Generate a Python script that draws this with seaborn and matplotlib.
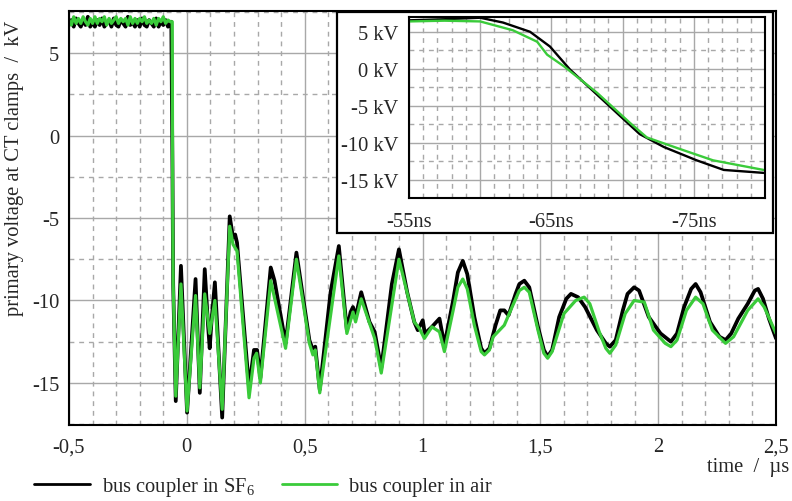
import matplotlib
matplotlib.use("Agg")
import numpy as np
import pandas as pd
import matplotlib.pyplot as plt
from matplotlib.patches import Rectangle
from matplotlib.lines import Line2D
from matplotlib.ticker import MultipleLocator, FixedLocator, FixedFormatter
import seaborn as sns

# ---------------- data ----------------
# plateau before the switching operation (µs, kV)
t_pre = [-0.50, -0.49, -0.48, -0.47, -0.46, -0.45, -0.44, -0.43, -0.42, -0.41,
         -0.40, -0.39, -0.38, -0.37, -0.36, -0.35, -0.34, -0.33, -0.32, -0.31,
         -0.30, -0.29, -0.28, -0.27, -0.26, -0.25, -0.24, -0.23, -0.22, -0.21,
         -0.20, -0.19, -0.18, -0.17, -0.16, -0.15, -0.14, -0.13, -0.12, -0.11,
         -0.10, -0.09, -0.08, -0.07]
u_sf6_pre = [6.7, 7.0, 6.6, 7.1, 6.8, 6.6, 7.0, 6.7, 7.2, 6.6, 6.9, 6.6, 7.0, 6.7,
             7.1, 6.6, 6.8, 7.0, 6.6, 7.1, 6.7, 6.6, 7.0, 6.8, 6.6, 7.2, 6.7, 6.9,
             6.6, 7.0, 6.6, 7.1, 6.7, 6.6, 7.0, 6.8, 6.6, 7.1, 6.6, 6.9, 6.7, 7.0,
             6.6, 6.8]
u_air_pre = [7.0, 6.7, 7.2, 6.8, 7.1, 6.8, 7.2, 6.9, 6.7, 7.1, 6.8, 7.2, 6.8, 7.1,
             6.9, 7.2, 6.7, 7.1, 6.8, 7.0, 7.2, 6.8, 7.1, 6.9, 7.1, 6.7, 7.2, 6.8,
             7.1, 6.8, 7.1, 6.9, 7.2, 6.8, 7.0, 6.8, 7.1, 6.7, 7.1, 6.9, 7.2, 6.8,
             7.0, 6.9]

# transient after the step, bus coupler in SF6
t_sf6 = [-0.066, -0.061, -0.058, -0.047, -0.025, 0.001, 0.037, 0.055, 0.076, 0.090,
         0.097, 0.105, 0.119, 0.150, 0.182, 0.196, 0.205, 0.213, 0.264, 0.285,
         0.298, 0.312, 0.356, 0.372, 0.419, 0.465, 0.490, 0.520, 0.535, 0.545,
         0.564, 0.610, 0.645, 0.679, 0.695, 0.705, 0.716, 0.740, 0.775, 0.797,
         0.825, 0.870, 0.900, 0.935, 0.965, 0.980, 1.001, 1.010, 1.040, 1.072,
         1.093, 1.130, 1.150, 1.171, 1.190, 1.220, 1.249, 1.263, 1.284, 1.310,
         1.330, 1.347, 1.365, 1.395, 1.411, 1.432, 1.453, 1.490, 1.515, 1.531,
         1.550, 1.580, 1.610, 1.630, 1.660, 1.690, 1.740, 1.778, 1.795, 1.820,
         1.850, 1.870, 1.898, 1.919, 1.960, 2.010, 2.054, 2.080, 2.110, 2.140,
         2.159, 2.180, 2.220, 2.260, 2.286, 2.310, 2.340, 2.380, 2.410, 2.424,
         2.445, 2.470, 2.500]
u_sf6 = [6.9, -2.0, -9.0, -16.1, -7.9, -16.8, -8.7, -15.6, -8.1, -11.5,
         -12.9, -11.2, -8.9, -17.1, -4.9, -6.2, -6.0, -6.5, -15.3, -13.0,
         -13.0, -14.7, -8.0, -8.8, -12.6, -7.1, -9.5, -12.4, -13.0, -12.8,
         -15.4, -9.5, -6.7, -11.8, -10.7, -10.4, -11.0, -9.5, -11.3, -11.9,
         -14.1, -9.0, -6.9, -9.5, -11.3, -11.8, -11.2, -12.0, -11.6, -11.1,
         -12.7, -10.0, -8.3, -7.6, -8.4, -11.0, -12.9, -13.2, -12.9, -11.5,
         -10.6, -10.6, -10.9, -9.6, -9.0, -8.8, -9.2, -11.6, -13.0, -13.4,
         -13.0, -11.0, -9.9, -9.6, -9.8, -10.4, -11.8, -12.6, -12.8, -12.4,
         -10.6, -9.6, -9.2, -9.4, -11.0, -12.0, -12.5, -12.0, -10.4, -9.3,
         -9.0, -9.5, -11.3, -12.2, -12.4, -12.0, -11.1, -10.2, -9.4, -9.3,
         -9.9, -11.1, -12.3]

# transient after the step, bus coupler in air
t_air = [-0.062, -0.060, -0.058, -0.047, -0.025, 0.001, 0.037, 0.055, 0.076, 0.097,
         0.119, 0.150, 0.182, 0.196, 0.213, 0.264, 0.285, 0.296, 0.312, 0.356,
         0.419, 0.465, 0.520, 0.535, 0.545, 0.564, 0.645, 0.679, 0.705, 0.716,
         0.740, 0.797, 0.825, 0.900, 0.965, 0.987, 1.008, 1.040, 1.072, 1.093,
         1.130, 1.150, 1.171, 1.190, 1.220, 1.249, 1.263, 1.284, 1.300, 1.347,
         1.380, 1.411, 1.432, 1.453, 1.490, 1.515, 1.531, 1.550, 1.600, 1.650,
         1.686, 1.710, 1.750, 1.778, 1.795, 1.820, 1.860, 1.898, 1.941, 1.980,
         2.030, 2.054, 2.080, 2.120, 2.159, 2.190, 2.230, 2.286, 2.320, 2.380,
         2.424, 2.450, 2.500]
u_air = [6.9, -4.5, -9.0, -15.8, -9.0, -16.7, -9.7, -15.3, -9.6, -12.0,
         -10.0, -16.6, -5.5, -6.6, -7.0, -15.9, -13.5, -13.2, -15.0, -8.8,
         -12.9, -7.5, -12.6, -13.3, -13.0, -15.6, -7.3, -12.0, -10.7, -11.3,
         -9.9, -12.3, -14.4, -7.5, -11.3, -11.7, -12.3, -11.6, -11.9, -13.1,
         -10.6, -9.2, -8.7, -9.3, -11.5, -13.1, -13.3, -13.0, -12.2, -11.5,
         -10.4, -9.4, -9.2, -9.5, -11.8, -13.2, -13.5, -13.1, -10.8, -10.0,
         -9.8, -10.2, -11.9, -12.9, -13.2, -12.7, -10.8, -10.0, -10.1, -11.8,
         -12.6, -12.8, -12.4, -10.6, -9.8, -10.2, -11.8, -12.6, -12.2, -10.6,
         -9.9, -10.4, -12.0]

# zoomed view of the falling edge (ns, kV)
tz_sf6 = [55.0, 57.5, 60.0, 61.6, 63.5, 64.9, 66.3, 68.2, 70.05, 71.2, 72.9, 75.2, 77.1, 79.9]
uz_sf6 = [6.55, 6.7, 6.9, 6.25, 5.0, 3.0, -0.1, -3.5, -6.8, -8.85, -10.6, -12.4, -13.7, -14.1]
tz_air = [55.0, 57.5, 60.0, 62.3, 64.0, 64.7, 65.9, 68.2, 70.5, 71.7, 74.0, 76.35, 79.9]
uz_air = [6.4, 6.5, 6.4, 5.2, 3.65, 1.9, 0.3, -3.25, -7.3, -9.3, -10.85, -12.4, -13.7]

x_ticks = [-0.5, 0.0, 0.5, 1.0, 1.5, 2.0, 2.5]
x_labels = ["-0,5", "0", "0,5", "1", "1,5", "2", "2,5"]
y_ticks = [5, 0, -5, -10, -15]
y_labels = ["5", "0", "-5", "-10", "-15"]
zx_ticks = [55, 60, 65, 70, 75, 80]
zx_labels = ["-55ns", "", "-65ns", "", "-75ns", ""]
zy_ticks = [5, 0, -5, -10, -15]
zy_labels = ["5 kV", "0 kV", "-5 kV", "-10 kV", "-15 kV"]

series_names = ["bus coupler in SF$_\\mathrm{6}$", "bus coupler in air"]
c_sf6 = "#000000"
c_air = "#3acb3a"

# ---------------- style ----------------
sns.set_style("white")
plt.rcParams["font.family"] = ["Liberation Serif", "DejaVu Serif"]
plt.rcParams["mathtext.fontset"] = "custom"
plt.rcParams["mathtext.rm"] = "Liberation Serif"
plt.rcParams["font.size"] = 14.8

fig = plt.figure(figsize=(7.92, 5.02), dpi=100)
W, H = 792.0, 502.0

grid_col = "#a8a8a8"


def style_grid(ax):
    ax.grid(which="major", color=grid_col, lw=1.0, ls="-")
    ax.grid(which="minor", color=grid_col, lw=1.0, ls=(0, (3.5, 3.5)))
    ax.set_axisbelow(True)
    for s in ax.spines.values():
        s.set_color("black")
        s.set_linewidth(1.5)
        s.set_visible(True)


# main axes
ax = fig.add_axes([69 / W, 1 - 426 / H, (776 - 69) / W, (426 - 12) / H])
df_sf6 = pd.DataFrame({"t": t_pre + t_sf6, "u": u_sf6_pre + u_sf6})
df_air = pd.DataFrame({"t": t_pre + t_air, "u": u_air_pre + u_air})
sns.lineplot(data=df_sf6, x="t", y="u", ax=ax, color=c_sf6, lw=2.7,
             sort=False, estimator=None, legend=False)
sns.lineplot(data=df_air, x="t", y="u", ax=ax, color=c_air, lw=2.3,
             sort=False, estimator=None, legend=False)
ax.set_xlim(-0.5, 2.5)
ax.set_ylim(-17.55, 7.55)
ax.xaxis.set_major_locator(FixedLocator(x_ticks))
ax.xaxis.set_major_formatter(FixedFormatter(x_labels))
ax.xaxis.set_minor_locator(MultipleLocator(0.1))
ax.yaxis.set_major_locator(FixedLocator(y_ticks))
ax.yaxis.set_major_formatter(FixedFormatter(y_labels))
ax.yaxis.set_minor_locator(MultipleLocator(2.5))
ax.set_xlabel("")
ax.set_ylabel("")
style_grid(ax)
ax.tick_params(which="major", direction="in", length=9, width=1.5, color="#222222",
               labelsize=14.8, pad=7)
ax.tick_params(axis="x", which="major", pad=9)
ax.tick_params(which="minor", length=0)
ax.tick_params(top=False, right=False)

# frame behind the zoomed view
fig.patches.append(Rectangle((337 / W, 1 - 234 / H), (773 - 337) / W, (234 - 13) / H,
                             transform=fig.transFigure, facecolor="white",
                             edgecolor="black", lw=1.6, zorder=1))

# zoomed view of the falling edge
axz = fig.add_axes([409 / W, 1 - 199 / H, (765 - 409) / W, (199 - 18) / H], zorder=2)
dz_sf6 = pd.DataFrame({"t": tz_sf6, "u": uz_sf6})
dz_air = pd.DataFrame({"t": tz_air, "u": uz_air})
sns.lineplot(data=dz_sf6, x="t", y="u", ax=axz, color=c_sf6, lw=1.7,
             sort=False, estimator=None, legend=False)
sns.lineplot(data=dz_air, x="t", y="u", ax=axz, color=c_air, lw=1.7,
             sort=False, estimator=None, legend=False)
axz.set_xlim(55, 80)
axz.set_ylim(-17.5, 7.0)
axz.xaxis.set_major_locator(FixedLocator(zx_ticks))
axz.xaxis.set_major_formatter(FixedFormatter(zx_labels))
axz.xaxis.set_minor_locator(MultipleLocator(1))
axz.yaxis.set_major_locator(FixedLocator(zy_ticks))
axz.yaxis.set_major_formatter(FixedFormatter(zy_labels))
axz.yaxis.set_minor_locator(MultipleLocator(2.5))
axz.set_xlabel("")
axz.set_ylabel("")
style_grid(axz)
axz.tick_params(which="major", direction="in", length=9, width=1.5, color="#222222",
                labelsize=14.8, pad=8)
axz.tick_params(axis="x", which="major", pad=10)
axz.tick_params(which="minor", length=0)

# axis titles
fig.text(15 / W, 1 - 168 / H, "primary voltage at CT clamps  /  kV", rotation=90,
         ha="center", va="center", fontsize=14.8)
fig.text(789 / W, 1 - 468 / H, "time  /  µs", ha="right", va="center", fontsize=14.8)

# legend
handles = [Line2D([], [], color=c_sf6, lw=2.0), Line2D([], [], color=c_air, lw=2.0)]
fig.legend(handles, series_names, loc="center left", bbox_to_anchor=(34 / W, 1 - 488 / H),
           ncol=2, frameon=False, handlelength=2.7, handletextpad=0.6,
           columnspacing=1.3, borderaxespad=0, borderpad=0, fontsize=14.8)

fig.savefig("out.png", dpi=100)
